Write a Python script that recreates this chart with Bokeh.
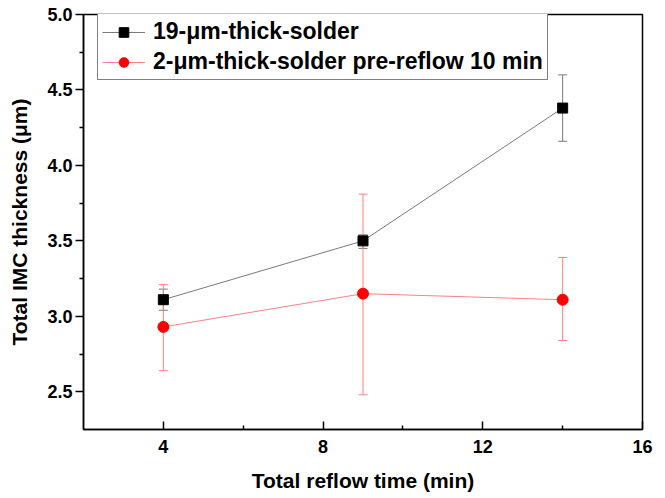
from bokeh.plotting import figure
from bokeh.models import Whisker, ColumnDataSource, FixedTicker, Legend, LegendItem, TeeHead
from bokeh.embed import file_html
from bokeh.resources import INLINE

# Data
reflow_time = [4, 9, 14]
thick19 = [3.11, 3.50, 4.38]
thick19_lo = [3.04, 3.45, 4.16]
thick19_hi = [3.18, 3.54, 4.60]
pre10 = [2.93, 3.15, 3.11]
pre10_lo = [2.64, 2.48, 2.84]
pre10_hi = [3.21, 3.81, 3.39]

x_ticks = [4, 8, 12, 16]
x_minor = [6, 10, 14]
y_ticks = [2.5, 3.0, 3.5, 4.0, 4.5, 5.0]
y_tick_labels = ["2.5", "3.0", "3.5", "4.0", "4.5", "5.0"]
y_minor = [2.75, 3.25, 3.75, 4.25, 4.75]

series_names = ["19-\u03bcm-thick-solder", "2-\u03bcm-thick-solder pre-reflow 10 min"]

FONT = "Liberation Sans"

p = figure(width=665, height=498, x_range=(2, 16), y_range=(2.25, 5.0),
           output_backend="svg", toolbar_location=None,
           min_border_left=83, min_border_right=23, min_border_top=14, min_border_bottom=69)
p.xgrid.visible = False
p.ygrid.visible = False
p.outline_line_color = "black"
p.outline_line_width = 1.5
p.background_fill_color = "white"

s1 = ColumnDataSource(dict(x=reflow_time, y=thick19, lo=thick19_lo, hi=thick19_hi))
s2 = ColumnDataSource(dict(x=reflow_time, y=pre10, lo=pre10_lo, hi=pre10_hi))

w1 = Whisker(source=s1, base="x", lower="lo", upper="hi", line_color="#7a7a7a", line_width=1,
             upper_head=TeeHead(size=9, line_color="#7a7a7a", line_width=1),
             lower_head=TeeHead(size=9, line_color="#7a7a7a", line_width=1))
w2 = Whisker(source=s2, base="x", lower="lo", upper="hi", line_color="#ff8080", line_width=1,
             upper_head=TeeHead(size=9, line_color="#ff8080", line_width=1),
             lower_head=TeeHead(size=9, line_color="#ff8080", line_width=1))
p.add_layout(w1)
p.add_layout(w2)

l1 = p.line("x", "y", source=s1, line_color="#7a7a7a", line_width=1)
m1 = p.scatter("x", "y", source=s1, marker="square", size=10, fill_color="black", line_color="black")
l2 = p.line("x", "y", source=s2, line_color="#ff8080", line_width=1)
m2 = p.scatter("x", "y", source=s2, marker="circle", size=11, fill_color="#ff0000", line_color="#ff0000")

legend = Legend(items=[LegendItem(label=series_names[0], renderers=[l1, m1]),
                       LegendItem(label=series_names[1], renderers=[l2, m2])],
                location=(14, 415 - 8 - 58))
legend.label_text_font = FONT
legend.label_text_font_style = "bold"
legend.label_text_font_size = "23px"
legend.label_text_color = "black"
legend.label_height = 24
legend.glyph_height = 24
legend.glyph_width = 43
legend.label_standoff = 8
legend.padding = 4
legend.spacing = 3
legend.margin = 0
legend.border_line_color = "black"
legend.border_line_width = 1
legend.background_fill_alpha = 1.0
p.add_layout(legend)

# Axes
xa = p.xaxis[0]
xa.ticker = FixedTicker(ticks=x_ticks, minor_ticks=x_minor)
xa.axis_label = "Total reflow time (min)"
xa.major_tick_in = 8
xa.major_tick_out = 0
xa.minor_tick_in = 4
xa.minor_tick_out = 0
xa.major_label_standoff = 10

ya = p.yaxis[0]
ya.ticker = FixedTicker(ticks=y_ticks, minor_ticks=y_minor)
ya.major_label_overrides = {t: l for t, l in zip(y_ticks, y_tick_labels)}
ya.axis_label = "Total IMC thickness (\u03bcm)"
ya.major_tick_in = 0
ya.major_tick_out = 8
ya.minor_tick_in = 0
ya.minor_tick_out = 4
ya.major_label_standoff = 3

for ax in (xa, ya):
    ax.axis_line_color = "black"
    ax.axis_line_width = 1.5
    ax.major_tick_line_color = "black"
    ax.major_tick_line_width = 1.5
    ax.minor_tick_line_color = "black"
    ax.minor_tick_line_width = 1.5
    ax.major_label_text_font = FONT
    ax.major_label_text_font_style = "bold"
    ax.major_label_text_font_size = "18px"
    ax.major_label_text_color = "black"
    ax.axis_label_text_font = FONT
    ax.axis_label_text_font_style = "bold"
    ax.axis_label_text_font_size = "21px"
    ax.axis_label_text_color = "black"
    ax.axis_label_standoff = 13

open("out.html", "w").write(file_html(p, INLINE))
